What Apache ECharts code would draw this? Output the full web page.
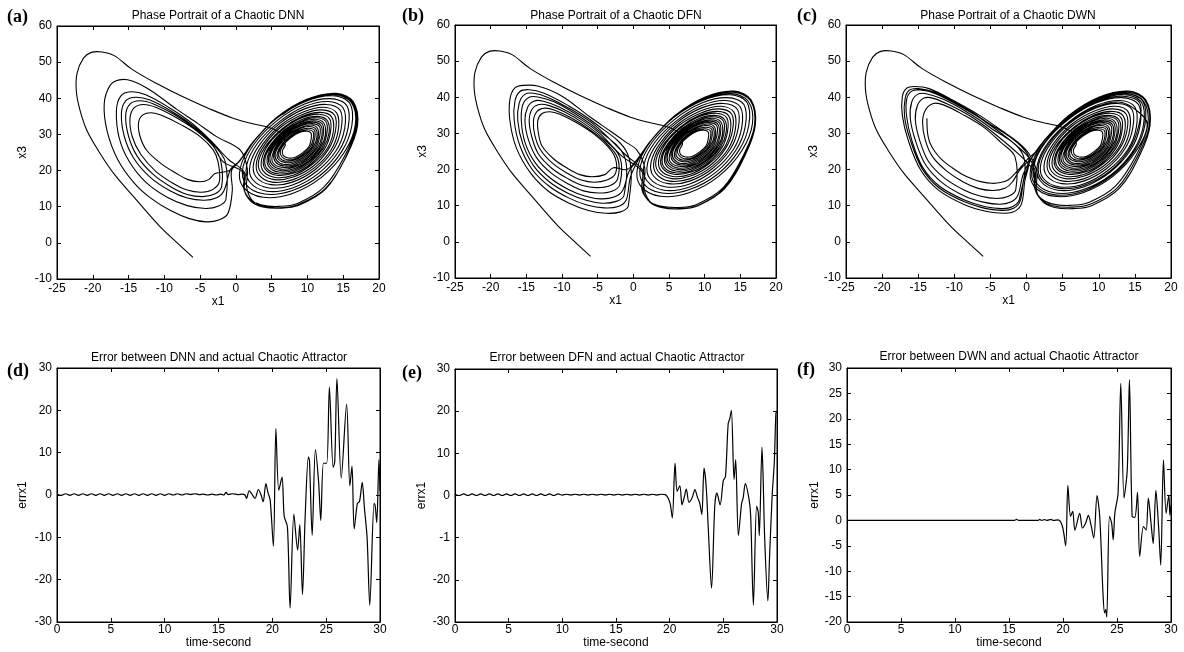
<!DOCTYPE html>
<html><head><meta charset="utf-8">
<script src="https://cdn.jsdelivr.net/npm/echarts/dist/echarts.min.js"></script>
<style>html,body{margin:0;padding:0;background:#fff}#c{width:1184px;height:652px}</style>
</head><body><div id="c"></div><script>
// ---------- phase portrait data (x1, x3) ----------
const transient = [[-6,-4],[-8.2,0],[-10.6,4.5],[-14.3,12.8],[-17,19],[-19,24.8],[-20.8,31],[-21.8,36.8],[-22.3,42],[-22.2,46.9],[-21.3,51.1],[-20.2,52.7],[-18.7,52.8],[-17,51.8],[-14.5,48],[-11,44],[-7.4,40.4],[-3.8,37.2],[-0.4,34.5],[2.5,32.9],[4.5,32],[6.3,30.3]];
const rightSpiral = [
[6.9,27.2],[6.5,25.5],[6.6,24.2],[7.3,23.5],[8.3,23.7],[9.3,24.9],[10.2,26.6],[10.5,28.5],
[10.5,30.4],[9.9,30.9],[8.8,30.5],[7.7,29.1],[6.7,27.2],[6.2,25.3],[6.4,23.9],[7.1,23],[8.3,23.3],[9.4,24.6],[10.4,26.6],[10.8,28.7],
[10.8,30.7],[10,31.3],[8.8,30.8],[7.6,29.3],[6.5,27.2],[6,25.1],[6.1,23.5],[7,22.6],[8.2,22.9],[9.5,24.3],[10.6,26.5],[11,28.8],
[11,31.1],[10.2,31.7],[8.9,31.2],[7.5,29.5],[6.4,27.2],[5.8,24.9],[5.9,23.2],[6.9,22.2],[8.2,22.5],[9.7,24.1],[10.8,26.5],[11.3,29],
[11.2,31.4],[10.3,32.2],[8.9,31.6],[7.4,29.8],[6.2,27.3],[5.5,24.7],[5.7,22.8],[6.7,21.7],[8.2,22.1],[9.8,23.8],[11,26.4],[11.5,29.2],
[11.4,31.7],[10.5,32.6],[9,31.9],[7.3,30],[6,27.3],[5.3,24.5],[5.5,22.5],[6.6,21.3],[8.2,21.7],[9.9,23.5],[11.2,26.3],[11.7,29.3],
[11.7,32.1],[10.6,33],[9,32.3],[7.2,30.2],[5.8,27.3],[5.1,24.3],[5.2,22.1],[6.4,20.9],[8.2,21.3],[10,23.3],[11.4,26.3],[12,29.5],
[11.9,32.4],[10.8,33.4],[9,32.6],[7.1,30.4],[5.6,27.3],[4.8,24.1],[5,21.8],[6.3,20.4],[8.1,20.9],[10.1,23],[11.6,26.2],[12.2,29.7],
[12.1,32.8],[10.9,33.8],[9.1,33],[7.1,30.6],[5.4,27.3],[4.6,23.9],[4.8,21.4],[6.2,20],[8.1,20.5],[10.2,22.7],[11.8,26.2],[12.5,29.8],
[12.3,33.1],[11.1,34.2],[9.1,33.4],[7,30.8],[5.2,27.3],[4.4,23.7],[4.6,21.1],[6,19.6],[8.1,20.1],[10.3,22.5],[12,26.1],[12.7,30],
[12.6,33.5],[11.2,34.6],[9.2,33.7],[6.9,31.1],[5.1,27.3],[4.1,23.6],[4.3,20.7],[5.9,19.1],[8.1,19.7],[10.4,22.2],[12.2,26.1],[13,30.2],
[12.8,33.8],[11.4,35],[9.2,34.1],[6.8,31.3],[4.9,27.3],[3.9,23.4],[4.1,20.4],[5.7,18.7],[8.1,19.3],[10.5,21.9],[12.4,26],[13.2,30.4],
[13.1,34.3],[11.6,35.6],[9.2,34.6],[6.7,31.6],[4.6,27.4],[3.6,23.1],[3.8,19.9],[5.5,18.1],[8,18.7],[10.6,21.6],[12.7,25.9],[13.6,30.6],
[13.4,34.8],[11.8,36.1],[9.3,35],[6.6,31.8],[4.4,27.4],[3.2,22.8],[3.5,19.4],[5.4,17.5],[8,18.2],[10.8,21.2],[12.9,25.8],[13.9,30.8],
[13.8,35.3],[12,36.8],[9.4,35.6],[6.4,32.2],[4.1,27.4],[2.9,22.5],[3.2,18.9],[5.1,16.8],[8,17.5],[11,20.8],[13.3,25.7],[14.3,31.1],
[14.1,35.9],[12.3,37.5],[9.4,36.2],[6.3,32.6],[3.8,27.4],[2.5,22.2],[2.8,18.3],[4.9,16.1],[7.9,16.8],[11.1,20.3],[13.6,25.7],[14.7,31.4],
[14.6,36.6],[12.6,38.3],[9.5,37],[6.1,33],[3.4,27.4],[2,21.8],[2.3,17.6],[4.6,15.2],[7.9,16],[11.3,19.8],[14,25.5],[15.2,31.7],
[15,37.3],[12.9,39.1],[9.6,37.7],[6,33.4],[3,27.5],[1.5,21.4],[1.9,16.9],[4.3,14.3],[7.9,15.2],[11.6,19.3],[14.4,25.4],[15.7,32],
[15.5,38],[13.2,39.9],[9.6,38.4],[5.8,33.9],[2.6,27.5],[1,21],[1.4,16.2],[4,13.5],[7.8,14.4],[11.8,18.7],[14.8,25.3],[16.2,32.4],
[15.9,38.7],[13.5,40.7],[9.7,39.1],[5.6,34.3],[2.3,27.5],[0.6,20.6],[1,15.5],[3.8,12.6],[7.8,13.6],[12,18.2],[15.2,25.2],[16.7,32.7]];
const rightToLeft = [[16.1,38.9],[13.7,41],[9.8,39.3],[5.6,34.4],[2.3,27.6],[0.6,23],[-0.9,20]];

// panel (a) DNN
const leftA1 = [[-2.9,19.2],[-3.8,17.5],[-5,16.9],[-6.7,17.5],[-8.3,19.2],[-10.5,22],[-12.5,25.7],[-13.4,29.5],[-13.6,33.3],[-13,35.4],[-11.8,36],[-10.4,35.3],[-7.5,32.5],[-5,29.4],[-3.2,25.8],[-2.5,22.5]];
const leftA2 = [[-2.3,17],[-3.2,14.8],[-4.8,14],[-6.8,14.6],[-8.8,16.5],[-11.2,19.8],[-13.3,24.5],[-14.5,29.5],[-14.8,34.5],[-14.2,37.4],[-12.9,38.3],[-11.2,37.5],[-8.3,34.6],[-5.5,31],[-3.2,26.8],[-2.1,22.5]];
const leftA3 = [[-2,15.5],[-2.9,13.6],[-4.6,12.8],[-6.8,13.4],[-9,15.4],[-11.6,19],[-13.8,24],[-15,29.5],[-15.4,35.3],[-14.8,38.4],[-13.4,39.3],[-11.6,38.5],[-8.6,35.5],[-5.7,31.6],[-3.3,27.2],[-1.8,22.5]];
const crossA1 = [[1,19.5],[1.1,15],[2,12],[3.5,10.5],[6,10.1],[8.6,10.9],[12.3,15.4],[15.3,24.4],[16.8,32.5],[16.2,38.9],[13.8,41.1],[9.8,39.4],[5.6,34.5],[2.3,27.7],[0.5,22.6],[-0.7,20.5]];
const leftA4 = [[-1.7,14.3],[-2.7,12.5],[-4.4,11.8],[-6.8,12.4],[-9.2,14.4],[-12,18.2],[-14.3,23.5],[-15.6,29.5],[-16,35.8],[-15.4,39.3],[-14,40.3],[-12,39.5],[-8.9,36.3],[-5.9,32.3],[-3.4,27.7],[-1.5,22.5]];
const leftA5 = [[-1.4,12],[-2.4,10.2],[-4.2,9.5],[-6.8,10.3],[-9.6,12.6],[-12.6,16.8],[-14.9,22.5],[-16.3,29],[-16.7,36.5],[-16.1,40.6],[-14.7,41.8],[-12.6,41],[-9.3,37.4],[-6.2,33.2],[-3.5,28.3],[-1,23]];
const crossA2 = [[1.2,19.5],[1.2,14.5],[2.1,11.5],[3.6,10],[6.2,9.6],[8.8,10.4],[12.6,15],[15.5,24.2],[17,32.4],[16.4,39.1],[14,41.4],[9.9,39.7],[5.7,34.7],[2.4,27.9],[0.6,22.8],[-0.6,20],[-0.5,14.5]];
const leftA6 = [[-1.1,8.2],[-2.3,6.4],[-4.1,5.8],[-6.5,6.7],[-9.2,9],[-12,12.5],[-14.2,16.5],[-16.5,23],[-18,31],[-18.4,38.5],[-17.6,43.5],[-16.3,45.1],[-14.5,44.8],[-12,42.3],[-8.3,37],[-5.3,33],[-2.7,29.4],[0.6,25.7]];
const tailA = [[1.6,20.5],[1.5,15.5],[2.2,12],[3.6,10.2],[6,9.7],[8.6,10.5],[12.5,15],[15.5,24.3],[16.9,32.5],[16.3,39],[13.9,41.3],[10,39.6],[6.5,35.5]];

// panel (b) DFN
const leftB1 = [[-2.8,20.5],[-4,18.6],[-5.8,18],[-7.5,18.6],[-9.2,20.3],[-11.2,23],[-12.8,26.5],[-13.3,30],[-13.4,33.5],[-12.8,35.5],[-11.7,36],[-10.3,35.3],[-8,33],[-5.5,29.8],[-3.5,26.2],[-2.5,23]];
const leftB2 = [[-2.5,18.9],[-3.7,17.1],[-5.5,16.5],[-7.3,17.1],[-9.2,18.9],[-11.3,21.7],[-13,25.4],[-13.8,29.4],[-14,33.5],[-13.5,36.1],[-12.4,37],[-11.1,36.5],[-8.8,34.4],[-6.2,31.2],[-3.9,27.5],[-2.2,23.2]];
const leftB3 = [[-2.2,17.4],[-3.3,15.5],[-5.2,15],[-7.1,15.6],[-9.1,17.4],[-11.4,20.3],[-13.3,24.3],[-14.2,28.8],[-14.6,33.5],[-14.2,36.7],[-13.2,38],[-11.8,37.7],[-9.6,35.9],[-6.9,32.7],[-4.3,28.7],[-1.9,23.5]];
const leftB4 = [[-1.9,15.8],[-3,14],[-4.9,13.5],[-7,14.1],[-9.1,16],[-11.5,19],[-13.5,23.1],[-14.7,28.2],[-15.2,33.5],[-14.8,37.3],[-13.9,39],[-12.6,38.9],[-10.4,37.3],[-7.5,34.1],[-4.7,30],[-1.6,23.7]];
const crossB1 = [[1.2,19.5],[1.2,14.5],[2.1,11.5],[3.6,10],[6.2,9.5],[8.8,10.3],[12.6,15],[15.5,24.2],[17,32.4],[16.4,39.1],[14,41.4],[9.9,39.7],[5.7,34.7],[2.4,27.9],[0.6,22.8],[-0.6,19.5]];
const leftB5 = [[-1.5,14.2],[-2.7,12.4],[-4.6,11.9],[-6.8,12.7],[-9.1,14.5],[-11.6,17.6],[-13.8,22],[-15.2,27.6],[-15.7,33.5],[-15.5,37.9],[-14.6,40],[-13.4,40.1],[-11.2,38.8],[-8.2,35.5],[-5.1,31.2],[-1.3,23.9]];
const leftB6 = [[-1.3,12.9],[-2.4,11.2],[-4.4,10.7],[-6.6,11.5],[-9.1,13.4],[-11.7,16.5],[-14,21.1],[-15.5,27.1],[-16.2,33.5],[-16,38.4],[-15.2,40.8],[-14,41.1],[-11.9,39.9],[-8.7,36.6],[-5.4,32.3],[-1.1,24.1]];
const crossB2 = [[1.4,19.5],[1.4,14],[2.3,11],[3.9,9.5],[6.5,9.1],[9,9.9],[12.8,14.7],[15.7,24.1],[17.1,32.3],[16.5,39.3],[14.1,41.7],[10,40],[5.8,34.9],[2.5,28.1],[0.8,23],[-0.4,18]];
const leftB7 = [[-1,11.6],[-2.1,9.8],[-4.1,9.4],[-6.5,10.2],[-9,12.1],[-11.8,15.4],[-14.2,20.1],[-15.9,26.6],[-16.7,33.5],[-16.6,38.9],[-15.9,41.6],[-14.6,42.1],[-12.6,41.2],[-9.3,37.9],[-5.7,33.3],[-0.8,24.3]];
const leftB8 = [[-0.7,10],[-1.8,8.3],[-3.8,7.9],[-6.3,8.7],[-9,10.7],[-11.9,14],[-14.4,19],[-16.4,26],[-17.3,33.5],[-17.3,39.5],[-16.6,42.6],[-15.4,43.3],[-13.4,43.1],[-10,40.3],[-6.1,34.6],[-3.2,30.6],[-1.2,27.8],[0.5,25.4]];
const tailB = [[1.6,20.5],[1.5,15],[2.3,11.2],[3.9,9.6],[6.4,9.2],[9,10],[12.7,14.8],[15.6,24.2],[17,32.4],[16.4,39.1],[14,41.5],[10,39.8],[6.5,35.8]];

// panel (c) DWN
const rightExtraC = [[14.8,37],[12.7,38.7],[9.5,37.3],[6,33.2],[3.2,27.5],[1.7,21.6],[2.1,17.2],[4.5,14.8],[7.9,15.6],[11.5,19.5],[14.2,25.5],[15.5,31.9],
[15.7,38.4],[13.3,40.3],[9.7,38.8],[5.7,34.1],[2.5,27.5],[0.8,20.8],[1.2,15.8],[3.9,13],[7.8,14],[11.9,18.5],[15,25.3],[16.4,32.5]];
const leftC2 = [[-2,16.5],[-3,14.8],[-4.7,14.2],[-6.7,14.8],[-8.7,16.5],[-11,19.5],[-13,23.5],[-14,28],[-14.4,33],[-14,36.5],[-12.9,38.3],[-11.5,37.9],[-8.8,35.2],[-6,31.8],[-3.6,27.6],[-1.6,23.5]];
const leftC3 = [[-1.5,14.4],[-2.5,12.6],[-4.1,12],[-6.3,12.6],[-8.6,14.3],[-11.4,17.7],[-13.6,22.3],[-14.8,28.1],[-15.4,33.7],[-15.1,37.8],[-14.2,39.8],[-12.9,39.7],[-10.5,37.7],[-7.5,34.4],[-4.6,30.2],[-0.9,23.9]];
const crossC1 = [[1,19.5],[1.1,15],[2,12],[3.5,10.5],[6,10.1],[8.6,10.9],[12.3,15.4],[15.3,24.4],[16.8,32.5],[16.2,38.9],[13.8,41.1],[9.8,39.4],[5.6,34.5],[2.3,27.7],[0.5,22.6],[-0.5,18.5]];
const leftC4 = [[-1.2,12.9],[-2.2,11],[-3.7,10.4],[-6,11],[-8.6,12.7],[-11.7,16.4],[-14,21.4],[-15.4,28.1],[-16.1,34.2],[-15.9,38.7],[-15.1,40.8],[-13.9,41],[-11.6,39.5],[-8.5,36.2],[-5.3,32],[-0.5,24.1]];
const leftC5 = [[-1,11.7],[-1.9,9.8],[-3.3,9.2],[-5.7,9.7],[-8.5,11.5],[-12,15.3],[-14.4,20.7],[-15.9,28.2],[-16.6,34.6],[-16.6,39.5],[-15.9,41.7],[-14.7,42],[-12.6,41],[-9.4,37.7],[-5.9,33.5],[-0.1,24.3]];
const crossC2 = [[1.2,19.5],[1.2,14.5],[2.1,11.5],[3.6,10],[6.2,9.6],[8.8,10.4],[12.6,15],[15.5,24.2],[17,32.4],[16.4,39.1],[14,41.4],[9.9,39.7],[5.7,34.7],[2.4,27.9],[0.6,22.8],[-0.4,17]];
const leftC5b = [[-0.9,11.2],[-1.8,9.3],[-3.2,8.7],[-5.6,9.2],[-8.5,11],[-12.1,14.9],[-14.5,20.4],[-16.1,28.2],[-16.9,34.8],[-16.8,39.8],[-16.2,42],[-15,42.4],[-12.9,41.5],[-9.7,38.3],[-6.2,34.1],[0.1,24.4],[-0.3,16]];
const leftC6 = [[-0.7,10.5],[-1.6,8.5],[-3,7.9],[-5.5,8.4],[-8.5,10.2],[-12.2,14.3],[-14.7,20],[-16.4,28.2],[-17.2,35],[-17.2,40.2],[-16.6,42.5],[-15.5,43],[-13.5,42.4],[-10.2,39.2],[-6.5,35],[-3.3,30.6],[-1.2,27.6],[0.3,24.5]];
const crossC3 = [[1.4,19.5],[1.4,14],[2.3,11],[3.9,9.5],[6.5,9.2],[9,10],[12.8,14.7],[15.7,24.1],[17.1,32.3],[16.5,39.3],[14.1,41.7],[10,40],[5.8,34.9],[2.5,28.1],[1.6,25.5]];
const leftC1End = [[0.2,23],[-1.2,19.8],[-2.5,17.2],[-3.6,16.4],[-4.8,16.2],[-6.2,16.6],[-7.5,17.4],[-9,18.8],[-10.3,20.5],[-11.7,22.7],[-12.7,25],[-13.4,27.5],[-13.7,30],[-13.8,34.2]];

// ---------- error time series [time-second, errx1] ----------
const errDNN = [[0,0.2],[0.4,-0.1],[0.8,0.3],[1.2,-0.1],[1.6,0.3],[2,-0.1],[2.4,0.3],[2.8,-0.1],[3.2,0.3],[3.6,-0.1],[4,0.3],[4.4,-0.1],[4.8,0.3],[5.2,-0.1],[5.6,0.3],[6,-0.1],[6.4,0.3],[6.8,-0.1],[7.2,0.3],[7.6,-0.1],[8,0.3],[8.4,-0.1],[8.8,0.3],[9.2,-0.1],[9.6,0.3],[10,-0.1],[10.4,0.3],[10.8,0],[11.2,0.3],[11.6,0],[12,0.3],[12.4,0.1],[12.8,0.3],[13.2,0.1],[13.6,0.2],[14,0],[14.4,0.2],[14.8,0],[15.2,0.2],[15.5,0],[15.7,0.6],[15.9,0.1],[16.3,0.3],[16.8,0.1],[17.2,0.2],[17.45,0],[17.6,-0.8],[17.85,1],[18.1,0.2],[18.4,-0.8],[18.7,1.3],[18.95,0],[19.15,-1.6],[19.4,2.7],[19.6,0.5],[19.8,-1.2],[20.1,-12.1],[20.33,15.7],[20.6,1.1],[20.9,4.2],[21.1,-5],[21.4,-7.5],[21.65,-26.7],[22.0,-4.5],[22.35,-13],[22.55,-7],[22.8,-23.5],[23.05,-5],[23.35,9],[23.45,8],[23.7,-9.5],[24.0,10.7],[24.3,3],[24.5,-6],[24.75,7.5],[25.05,7.5],[25.3,25.5],[25.65,6.5],[25.8,8],[26.0,27.5],[26.4,4],[26.9,21.5],[27.2,2.2],[27.4,6.8],[27.6,-8],[27.9,-2],[28.1,-1.5],[28.35,3],[28.55,-3],[28.8,-10],[29.05,-26],[29.45,-2],[29.55,-2.5],[29.7,-6.5],[29.9,8.3],[30,1]];
const errDFN = [[0,0.3],[0.4,0],[0.8,0.4],[1.2,0],[1.6,0.4],[2,0],[2.4,0.4],[2.8,0],[3.2,0.4],[3.6,0],[4,0.4],[4.4,0],[4.8,0.4],[5.2,0],[5.6,0.4],[6,0],[6.4,0.4],[6.8,0],[7.2,0.4],[7.6,0],[8,0.4],[8.4,0],[8.8,0.4],[9.2,0],[9.6,0.4],[10,0.1],[10.4,0.3],[10.8,0.1],[11.2,0.3],[11.6,0.1],[12,0.3],[12.4,0.1],[12.8,0.3],[13.2,0.1],[13.6,0.3],[14,0.1],[14.4,0.3],[14.8,0.1],[15.2,0.3],[15.6,0.1],[16,0.3],[16.4,0.1],[16.8,0.3],[17.2,0.1],[17.6,0.3],[18,0.1],[18.4,0.3],[18.8,0.1],[19.2,0.3],[19.6,0.2],[19.85,-0.6],[20.05,-2],[20.25,-5.3],[20.5,7.7],[20.7,1],[20.95,2.3],[21.15,-2.2],[21.35,-0.5],[21.55,1.5],[21.8,-1.6],[22.1,-0.5],[22.35,1.4],[22.6,-0.5],[22.8,-1.8],[23.0,-4.5],[23.2,6.5],[23.4,2.2],[23.6,-8],[23.9,-22],[24.2,-2.6],[24.4,0.6],[24.7,-2.2],[25.0,3.6],[25.2,4.5],[25.45,17],[25.6,18.2],[25.75,20.2],[26.0,3.8],[26.15,8.5],[26.4,-9.5],[26.7,-2],[26.85,-0.5],[27.05,2.8],[27.4,-1],[27.55,-5],[27.8,-26],[28.1,-2.5],[28.25,-4],[28.35,-9.5],[28.6,11.5],[28.7,5],[28.85,-10],[29.15,-25],[29.3,-15],[29.55,0],[29.75,8],[29.9,19.5],[30,20]];
const errDWN = [[0,0],[15.5,0],[15.7,0.2],[15.9,0],[17.7,0],[17.85,0.2],[18.0,0],[18.3,0.15],[18.5,0],[18.9,0.2],[19.1,0],[19.55,0.1],[19.95,-1.2],[20.25,-5],[20.45,6.9],[20.7,0.8],[20.9,1.8],[21.1,-1.9],[21.55,1.4],[21.8,-1.5],[22.1,-0.5],[22.35,1],[22.6,-1],[22.85,-3.5],[23.15,4.9],[23.4,0.8],[23.7,-14.3],[23.85,-18.2],[23.95,-17.5],[24.05,-19],[24.3,0.8],[24.5,-0.5],[24.65,-3.8],[24.8,1.4],[25.1,5.4],[25.35,27],[25.65,4.4],[25.95,10],[26.15,27.7],[26.4,0.8],[26.65,0.6],[26.9,5.5],[27.1,-7.1],[27.45,-1.2],[27.7,-1.9],[27.9,4.4],[28.15,-0.5],[28.35,-4.6],[28.6,5.9],[28.85,-1.2],[29.05,-8.8],[29.3,11.9],[29.55,1.4],[29.8,5],[29.9,1],[30,3]];

// ---------- text ----------
const titles = ['Phase Portrait of a Chaotic DNN','Phase Portrait of a Chaotic DFN','Phase Portrait of a Chaotic DWN',
  'Error between DNN and actual Chaotic Attractor','Error between DFN and actual Chaotic Attractor','Error between DWN and actual Chaotic Attractor'];
const tags = ['(a)','(b)','(c)','(d)','(e)','(f)'];

const phaseA = [].concat(transient, rightSpiral, rightToLeft, leftA1, leftA2, leftA3, crossA1, leftA4, leftA5, crossA2, leftA6, tailA);
const phaseB = [].concat(transient, rightSpiral, rightToLeft, leftB1, leftB2, leftB3, leftB4, crossB1, leftB5, leftB6, crossB2, leftB7, leftB8, tailB);
const phaseC = [].concat(transient, rightSpiral, rightExtraC, rightToLeft, leftC2, leftC3, crossC1, leftC4, leftC5, crossC2, leftC5b, leftC6, crossC3, leftC1End);

const FONT = '"Liberation Sans", Arial, sans-serif';
const panels = [
  {g:{left:57,top:26,width:322,height:253}, x:[-25,20,5], y:[-10,60,10], xn:'x1', yn:'x3', xg:14, yg:28, lm:4, data:phaseA, curve:true, lw:1.1, tx:218, ty:16, tgx:7, tgy:17},
  {g:{left:455,top:25,width:321,height:253}, x:[-25,20,5], y:[-10,60,10], xn:'x1', yn:'x3', xg:14, yg:26, lm:4, data:phaseB, curve:true, lw:1.1, tx:616, ty:16, tgx:402, tgy:16},
  {g:{left:846,top:25,width:325,height:253}, x:[-25,20,5], y:[-10,60,10], xn:'x1', yn:'x3', xg:14, yg:24, lm:4, data:phaseC, curve:true, lw:1.1, tx:1008, ty:16, tgx:797, tgy:16},
  {g:{left:57,top:368,width:323,height:254}, x:[0,30,5], y:[-30,30,10], xn:'time-second', yn:'errx1', xg:10, yg:28, lm:2, data:errDNN, sm:0.3, lw:1.2, tx:219, ty:358, tgx:7, tgy:371},
  {g:{left:455,top:369,width:322,height:253}, x:[0,30,5], y:[-30,30,10], xn:'time-second', yn:'errx1', xg:10, yg:27, lm:2, data:errDFN, sm:0.3, lw:1.2, tx:617, ty:358, tgx:402, tgy:373, fmt:v=>v===-10?'-1':String(v)},
  {g:{left:847,top:368,width:324,height:254}, x:[0,30,5], y:[-20,30,5], xn:'time-second', yn:'errx1', xg:10, yg:24, lm:2, data:errDWN, sm:0.3, lw:1.2, tx:1009, ty:357, tgx:797, tgy:370}
];

// one smooth trajectory through the data points, positioned by the axes (api.coord)
function trajectoryRenderer(pts, lw){
  return function(params, api){
    if (params.dataIndex !== 0) return null;
    const points = pts.map(p => api.coord(p));
    return {type:'polyline', silent:true, shape:{points:points, smooth:0.35},
            style:{stroke:'#000', lineWidth:lw, fill:'none', lineJoin:'round'}};
  };
}

const grid=[], xAxis=[], yAxis=[], series=[], graphic=[];
const tick = {show:true, inside:true, length:4, lineStyle:{color:'#000', width:1}};
const line = {show:true, onZero:false, lineStyle:{color:'#000', width:1}};
panels.forEach((p,i)=>{
  grid.push(Object.assign({show:true, borderColor:'#000', borderWidth:1, backgroundColor:'#fff'}, p.g));
  const xb = {type:'value', gridIndex:i, min:p.x[0], max:p.x[1], interval:p.x[2], splitLine:{show:false}, axisLine:line, axisTick:tick};
  const yb = {type:'value', gridIndex:i, min:p.y[0], max:p.y[1], interval:p.y[2], splitLine:{show:false}, axisLine:line, axisTick:tick};
  xAxis.push(Object.assign({}, xb, {position:'bottom', name:p.xn, nameLocation:'middle', nameGap:p.xg,
    nameTextStyle:{color:'#000', fontSize:12, fontFamily:FONT},
    axisLabel:{show:true, color:'#000', fontSize:12, fontFamily:FONT, margin:p.lm, showMinLabel:true, showMaxLabel:true}}));
  xAxis.push(Object.assign({}, xb, {position:'top', axisLabel:{show:false}}));
  yAxis.push(Object.assign({}, yb, {position:'left', name:p.yn, nameLocation:'middle', nameGap:p.yg,
    nameTextStyle:{color:'#000', fontSize:12, fontFamily:FONT},
    axisLabel:{show:true, color:'#000', fontSize:12, fontFamily:FONT, margin:5, showMinLabel:true, showMaxLabel:true, formatter:p.fmt||(v=>String(v))}}));
  yAxis.push(Object.assign({}, yb, {position:'right', axisLabel:{show:false}}));
  if (p.curve) {
    series.push({type:'custom', coordinateSystem:'cartesian2d', xAxisIndex:2*i, yAxisIndex:2*i, data:p.data,
      renderItem:trajectoryRenderer(p.data, p.lw), clip:true, animation:false, silent:true});
  } else {
    series.push({type:'line', xAxisIndex:2*i, yAxisIndex:2*i, data:p.data, smooth:p.sm, symbol:'none', showSymbol:false,
      lineStyle:{color:'#000', width:p.lw}, clip:true, animation:false, silent:true});
  }
  graphic.push({type:'text', x:p.tx, y:p.ty, style:{text:titles[i], font:'12px '+FONT, fill:'#000', textAlign:'center', textVerticalAlign:'middle', align:'center', verticalAlign:'middle'}});
  graphic.push({type:'text', x:p.tgx, y:p.tgy, style:{text:tags[i], font:'bold 18px "Liberation Serif", "Times New Roman", serif', fill:'#000', textAlign:'left', textVerticalAlign:'middle', align:'left', verticalAlign:'middle'}});
});

const chart = echarts.init(document.getElementById('c'), null, {renderer:'canvas', width:1184, height:652});
chart.setOption({backgroundColor:'#fff', animation:false, grid, xAxis, yAxis, series, graphic});
</script></body></html>
